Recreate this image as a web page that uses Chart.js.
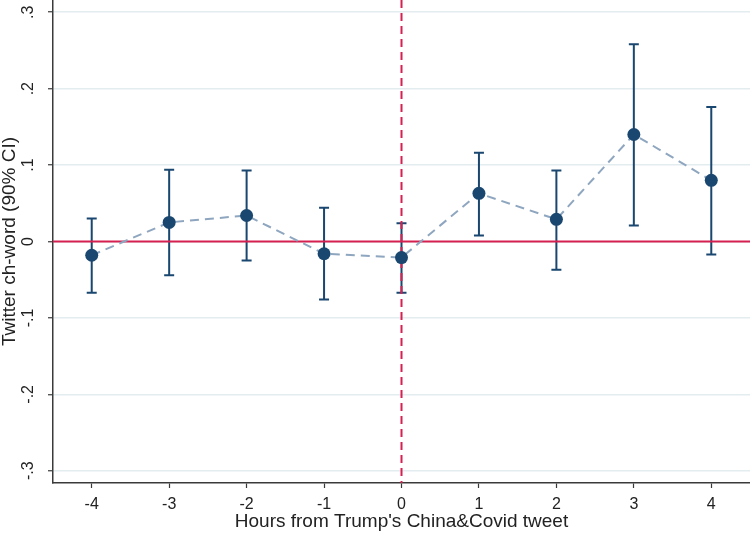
<!DOCTYPE html>
<html>
<head>
<meta charset="utf-8">
<script src="https://cdn.jsdelivr.net/npm/chart.js@4.4.0/dist/chart.umd.min.js"></script>
<style>
  html, body { margin: 0; padding: 0; background: #fff; }
</style>
</head>
<body>
<canvas id="chart" width="750" height="534"></canvas>
<script>
// Event-study estimates
const hours = [-4, -3, -2, -1, 0, 1, 2, 3, 4];
const coef = [-0.018, 0.025, 0.034, -0.016, -0.021, 0.063, 0.029, 0.140, 0.080];
const ciLow = [-0.067, -0.044, -0.025, -0.076, -0.067, 0.008, -0.037, 0.021, -0.017];
const ciHigh = [0.030, 0.094, 0.093, 0.044, 0.024, 0.116, 0.093, 0.258, 0.176];
const yTicks = [-0.3, -0.2, -0.1, 0, 0.1, 0.2, 0.3];

const FONT = "'Liberation Sans', Arial, Helvetica, sans-serif";
const NAVY = '#1a476f';
const RED = '#d62050';
const AXIS = '#3a3a3a';

function fmtY(v) {
  if (Math.abs(v) < 1e-9) return '0';
  const s = Math.abs(v).toFixed(1).replace(/^0/, '');
  return (v < 0 ? '-' : '') + s;
}

// reference lines + confidence intervals, drawn under the points
const ciPlugin = {
  id: 'ciPlugin',
  beforeDatasetsDraw(chart) {
    const { ctx, chartArea: a, scales: { x, y } } = chart;
    ctx.save();
    ctx.lineWidth = 2;
    // CI whiskers
    ctx.strokeStyle = NAVY;
    hours.forEach((h, i) => {
      const px = x.getPixelForValue(h);
      const lo = y.getPixelForValue(ciLow[i]);
      const hi = y.getPixelForValue(ciHigh[i]);
      ctx.beginPath();
      ctx.moveTo(px, lo); ctx.lineTo(px, hi);
      ctx.moveTo(px - 5, lo); ctx.lineTo(px + 5, lo);
      ctx.moveTo(px - 5, hi); ctx.lineTo(px + 5, hi);
      ctx.stroke();
    });
    // zero lines
    ctx.strokeStyle = RED;
    const y0 = y.getPixelForValue(0);
    ctx.beginPath(); ctx.moveTo(a.left, y0); ctx.lineTo(a.right, y0); ctx.stroke();
    const x0 = x.getPixelForValue(0);
    ctx.setLineDash([8, 5]);
    ctx.beginPath(); ctx.moveTo(x0, a.top); ctx.lineTo(x0, a.bottom); ctx.stroke();
    ctx.restore();
  }
};

new Chart(document.getElementById('chart'), {
  type: 'line',
  data: {
    datasets: [{
      data: hours.map((h, i) => ({ x: h, y: coef[i] })),
      borderColor: '#8ea6bf',
      borderWidth: 2,
      borderDash: [9, 6],
      tension: 0,
      pointRadius: 6.5,
      pointBackgroundColor: NAVY,
      pointBorderWidth: 0,
      fill: false
    }]
  },
  options: {
    responsive: false,
    animation: false,
    layout: { padding: 0, autoPadding: false },
    plugins: { legend: { display: false }, tooltip: { enabled: false } },
    scales: {
      x: {
        type: 'linear',
        min: -4.5,
        max: 4.5,
        afterBuildTicks: s => { s.ticks = hours.map(v => ({ value: v })); },
        afterFit: s => { s.height = 51; s.paddingLeft = 0; s.paddingRight = 0; },
        grid: { drawOnChartArea: false, tickLength: 5, color: AXIS, tickWidth: 1.2 },
        border: { color: AXIS, width: 1.5 },
        ticks: { color: '#222', font: { family: FONT, size: 16 }, padding: 7, maxRotation: 0, autoSkip: false, callback: v => String(v) },
        title: { display: true, text: "Hours from Trump's China&Covid tweet", color: '#222', font: { family: FONT, size: 19 }, padding: { top: 0, bottom: 1 } }
      },
      y: {
        min: -0.316,
        max: 0.316,
        afterBuildTicks: s => { s.ticks = yTicks.map(v => ({ value: v })); },
        afterFit: s => { s.width = 53; s.paddingTop = 0; s.paddingBottom = 0; },
        grid: { color: '#e3ecef', lineWidth: 1.5, tickLength: 5, tickColor: AXIS, tickWidth: 1.2 },
        border: { color: AXIS, width: 1.5 },
        ticks: { color: '#222', font: { family: FONT, size: 16 }, padding: 10, minRotation: 90, maxRotation: 90, crossAlign: 'center', autoSkip: false, callback: v => fmtY(v) },
        title: { display: true, text: 'Twitter ch-word (90% CI)', color: '#222', font: { family: FONT, size: 19, lineHeight: 1 }, padding: { top: 0, bottom: 0 } }
      }
    }
  },
  plugins: [ciPlugin]
});
</script>
</body>
</html>
